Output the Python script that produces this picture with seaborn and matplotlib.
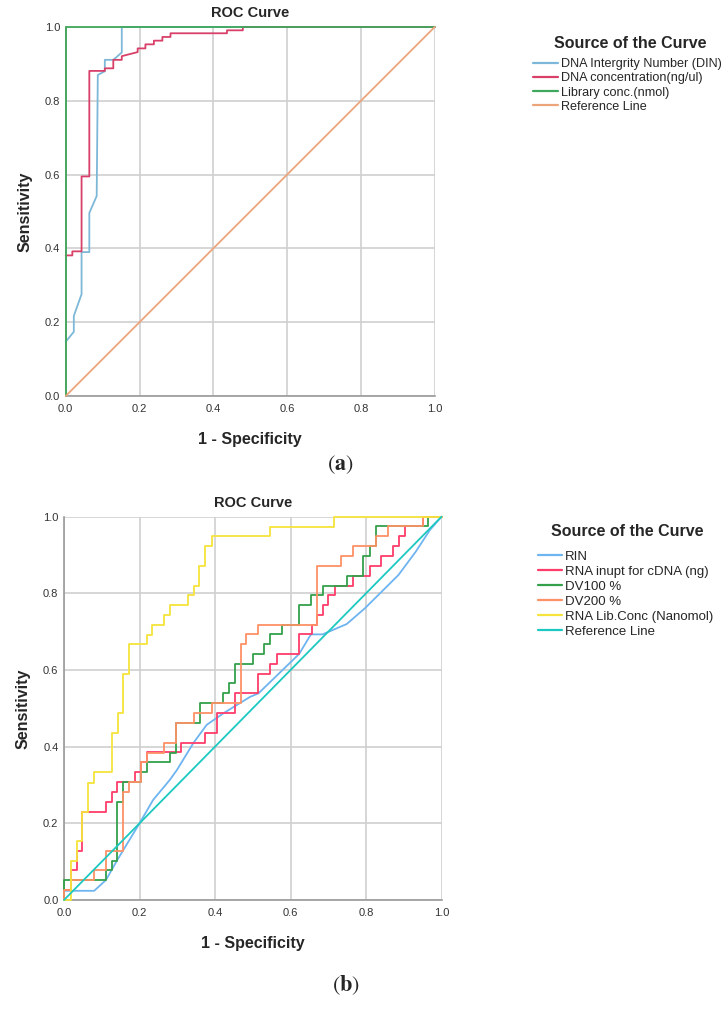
import numpy as np
import pandas as pd
import matplotlib
matplotlib.use("Agg")
import matplotlib.pyplot as plt
import seaborn as sns

sns.set_theme(style="white")
plt.rcParams['font.family'] = ['Liberation Sans', 'DejaVu Sans']
plt.rcParams['mathtext.fontset'] = 'stix'

# ---------------- Panel (a) data ----------------
a_din_x = [0, 0.022, 0.022, 0.043, 0.043, 0.064, 0.064, 0.084, 0.087, 0.106, 0.106, 0.129, 0.152, 0.152, 1.0]
a_din_y = [0.147, 0.174, 0.217, 0.276, 0.39, 0.39, 0.496, 0.542, 0.87, 0.88, 0.911, 0.911, 0.931, 1.0, 1.0]

a_conc_x = [0, 0.018, 0.018, 0.043, 0.043, 0.064, 0.064, 0.106, 0.106, 0.129, 0.129, 0.152, 0.152,
            0.195, 0.195, 0.216, 0.216, 0.239, 0.239, 0.262, 0.262, 0.284, 0.284, 0.437, 0.437,
            0.48, 0.48, 1.0]
a_conc_y = [0.381, 0.381, 0.392, 0.392, 0.595, 0.595, 0.881, 0.881, 0.888, 0.888, 0.911, 0.911, 0.921,
            0.932, 0.942, 0.942, 0.953, 0.953, 0.963, 0.963, 0.973, 0.973, 0.983, 0.983, 0.991,
            0.991, 1.0, 1.0]

a_lib_x = [0, 0, 1.0]
a_lib_y = [0, 1.0, 1.0]

ref_x = [0, 1.0]
ref_y = [0, 1.0]

a_labels = ["DNA Intergrity Number (DIN)", "DNA concentration(ng/ul)", "Library conc.(nmol)", "Reference Line"]
a_colors = ["#7DB8D8", "#D8406A", "#40A85C", "#EEA47A"]

# ---------------- Panel (b) data ----------------
b_rin_x = [0, 0, 0.08, 0.111, 0.141, 0.2, 0.236, 0.28, 0.299, 0.343, 0.378, 0.422, 0.493, 0.515,
           0.623, 0.654, 0.685, 0.749, 0.797, 0.837, 0.886, 0.932, 0.969, 1.0]
b_rin_y = [0, 0.024, 0.024, 0.052, 0.104, 0.2, 0.261, 0.313, 0.339, 0.41, 0.457, 0.487, 0.53, 0.539,
           0.642, 0.693, 0.693, 0.72, 0.761, 0.8, 0.848, 0.909, 0.965, 1.0]

b_rna_x = [0, 0, 0.018, 0.018, 0.034, 0.034, 0.049, 0.049, 0.11, 0.11, 0.126, 0.126, 0.141, 0.141,
           0.188, 0.188, 0.203, 0.203, 0.219, 0.219, 0.31, 0.31, 0.373, 0.373, 0.406, 0.406, 0.453,
           0.453, 0.515, 0.515, 0.546, 0.546, 0.563, 0.563, 0.623, 0.623, 0.656, 0.656, 0.67, 0.67,
           0.685, 0.685, 0.7, 0.7, 0.718, 0.718, 0.765, 0.765, 0.811, 0.811, 0.841, 0.841, 0.872,
           0.872, 0.888, 0.888, 0.903, 0.903, 0.952, 0.952, 1.0]
b_rna_y = [0, 0.026, 0.026, 0.077, 0.077, 0.128, 0.128, 0.23, 0.23, 0.256, 0.256, 0.282, 0.282, 0.308,
           0.308, 0.333, 0.333, 0.359, 0.359, 0.385, 0.385, 0.41, 0.41, 0.436, 0.436, 0.488, 0.488,
           0.539, 0.539, 0.59, 0.59, 0.616, 0.616, 0.642, 0.642, 0.693, 0.693, 0.717, 0.717, 0.743,
           0.743, 0.769, 0.769, 0.795, 0.795, 0.82, 0.82, 0.846, 0.846, 0.872, 0.872, 0.898, 0.898,
           0.924, 0.924, 0.95, 0.95, 0.976, 0.976, 1.0, 1.0]

b_dv100_x = [0, 0, 0.111, 0.111, 0.126, 0.126, 0.141, 0.141, 0.157, 0.157, 0.203, 0.203, 0.219, 0.219,
             0.281, 0.281, 0.297, 0.297, 0.36, 0.36, 0.422, 0.422, 0.438, 0.438, 0.453, 0.453, 0.5,
             0.5, 0.531, 0.531, 0.546, 0.546, 0.577, 0.577, 0.623, 0.623, 0.654, 0.654, 0.685, 0.685,
             0.749, 0.749, 0.793, 0.793, 0.811, 0.811, 0.826, 0.826, 0.965, 0.965, 1.0]
b_dv100_y = [0, 0.051, 0.051, 0.077, 0.077, 0.103, 0.103, 0.256, 0.256, 0.308, 0.308, 0.333, 0.333,
             0.359, 0.359, 0.384, 0.384, 0.461, 0.461, 0.513, 0.513, 0.539, 0.539, 0.565, 0.565,
             0.616, 0.616, 0.642, 0.642, 0.668, 0.668, 0.693, 0.693, 0.717, 0.717, 0.769, 0.769,
             0.795, 0.795, 0.82, 0.82, 0.846, 0.846, 0.898, 0.898, 0.924, 0.924, 0.976, 0.976, 1.0, 1.0]

b_dv200_x = [0, 0, 0.018, 0.018, 0.08, 0.08, 0.111, 0.111, 0.157, 0.157, 0.173, 0.173, 0.203, 0.203,
             0.219, 0.219, 0.266, 0.266, 0.297, 0.297, 0.344, 0.344, 0.391, 0.391, 0.468, 0.468,
             0.482, 0.482, 0.515, 0.515, 0.669, 0.669, 0.733, 0.733, 0.765, 0.765, 0.826, 0.826,
             0.857, 0.857, 0.952, 0.952, 1.0]
b_dv200_y = [0, 0.026, 0.026, 0.051, 0.051, 0.077, 0.077, 0.128, 0.128, 0.282, 0.282, 0.308, 0.308,
             0.359, 0.359, 0.384, 0.384, 0.41, 0.41, 0.461, 0.461, 0.487, 0.487, 0.513, 0.513, 0.668,
             0.668, 0.693, 0.693, 0.717, 0.717, 0.872, 0.872, 0.898, 0.898, 0.924, 0.924, 0.95, 0.95,
             0.976, 0.976, 1.0, 1.0]

b_lib_x = [0, 0.018, 0.018, 0.034, 0.034, 0.049, 0.049, 0.064, 0.064, 0.08, 0.08, 0.126, 0.126, 0.142,
           0.142, 0.157, 0.157, 0.172, 0.172, 0.219, 0.219, 0.234, 0.234, 0.266, 0.266, 0.281, 0.281,
           0.328, 0.328, 0.344, 0.344, 0.358, 0.358, 0.374, 0.374, 0.391, 0.391, 0.546, 0.546,
           0.716, 0.716, 1.0]
b_lib_y = [0, 0, 0.103, 0.103, 0.154, 0.154, 0.23, 0.23, 0.306, 0.306, 0.333, 0.333, 0.436, 0.436,
           0.487, 0.487, 0.59, 0.59, 0.667, 0.667, 0.692, 0.692, 0.718, 0.718, 0.744, 0.744, 0.769,
           0.769, 0.795, 0.795, 0.82, 0.82, 0.872, 0.872, 0.923, 0.923, 0.949, 0.949, 0.974, 0.974,
           1.0, 1.0]

b_labels = ["RIN", "RNA inupt for cDNA (ng)", "DV100 %", "DV200 %", "RNA Lib.Conc (Nanomol)", "Reference Line"]
b_colors = ["#6EB4F0", "#FF3D6B", "#33A04A", "#FF9166", "#F5E43C", "#1CC9C0"]

ticks = [0.0, 0.2, 0.4, 0.6, 0.8, 1.0]
tick_labels = ["0.0", "0.2", "0.4", "0.6", "0.8", "1.0"]
legend_title = "Source of the Curve"

W, H = 728, 1009
fig = plt.figure(figsize=(W / 100, H / 100), dpi=100)
fig.patch.set_facecolor("white")


def style_axes(ax):
    ax.set_xlim(0, 1)
    ax.set_ylim(0, 1)
    ax.set_xticks(ticks)
    ax.set_yticks(ticks)
    ax.set_xticklabels(tick_labels, fontsize=8, color="#333333")
    ax.set_yticklabels(tick_labels, fontsize=8, color="#333333")
    ax.tick_params(axis="x", length=0, pad=6)
    ax.tick_params(axis="y", length=0, pad=4)
    ax.grid(True, color="#CFCFCF", linewidth=1.2)
    ax.set_axisbelow(True)
    for s in ["top", "right"]:
        ax.spines[s].set_visible(False)
    for s in ["left", "bottom"]:
        ax.spines[s].set_color("#9A9A9A")
        ax.spines[s].set_linewidth(1.2)
        ax.spines[s].set_zorder(1)
    ax.set_xlabel("1 - Specificity", fontsize=11.5, fontweight="bold", labelpad=12.5)
    ax.set_ylabel("Sensitivity", fontsize=11.5, fontweight="bold", labelpad=9)
    ax.set_title("ROC Curve", fontsize=10.5, fontweight="bold", pad=7)


def draw(ax, xs, ys, color, label):
    df = pd.DataFrame({"x": xs, "y": ys})
    sns.lineplot(data=df, x="x", y="y", ax=ax, sort=False, estimator=None,
                 color=color, linewidth=1.3, label=label, legend=False)
    ax.lines[-1].set_clip_on(False)
    ax.lines[-1].set_zorder(3)


def add_legend(ax, x_handle, y_center, y_title, x_title, fs, tfs, hl, hp, ls):
    h, l = ax.get_legend_handles_labels()
    leg = fig.legend(h, l, loc="center left", bbox_to_anchor=(x_handle / W, 1 - y_center / H),
                     frameon=False, fontsize=fs, handlelength=hl, handletextpad=hp,
                     labelspacing=ls, borderpad=0, borderaxespad=0)
    for ln in leg.get_lines():
        ln.set_linewidth(1.6)
    fig.text(x_title / W, 1 - y_title / H, legend_title, fontsize=tfs, fontweight="bold",
             ha="center", va="center")


# Panel (a)
ax1 = fig.add_axes([65.7 / W, 1 - 396 / H, 369 / W, 369 / H])
a_series = [(a_din_x, a_din_y), (a_conc_x, a_conc_y), (a_lib_x, a_lib_y), (ref_x, ref_y)]
for (xs, ys), c, l in zip(a_series, a_colors, a_labels):
    draw(ax1, xs, ys, c, l)
style_axes(ax1)
add_legend(ax1, 533, 85.5, 43, 630, 9.1, 11.5, 2.0, 0.24, 0.18)

# Panel (b)
ax2 = fig.add_axes([64 / W, 1 - 900 / H, 377.5 / W, 383.3 / H])
b_series = [(b_rin_x, b_rin_y), (b_rna_x, b_rna_y), (b_dv100_x, b_dv100_y),
            (b_dv200_x, b_dv200_y), (b_lib_x, b_lib_y), (ref_x, ref_y)]
for (xs, ys), c, l in zip(b_series, b_colors, b_labels):
    draw(ax2, xs, ys, c, l)
style_axes(ax2)
add_legend(ax2, 538, 594, 531, 627, 9.5, 11.5, 1.8, 0.23, 0.21)

fig.text(340 / W, 1 - 465 / H, r"$(\mathbf{a})$", fontsize=16, ha="center", va="center")
fig.text(346 / W, 1 - 985 / H, r"$(\mathbf{b})$", fontsize=16, ha="center", va="center")

fig.savefig("out.png", dpi=100, facecolor="white")
